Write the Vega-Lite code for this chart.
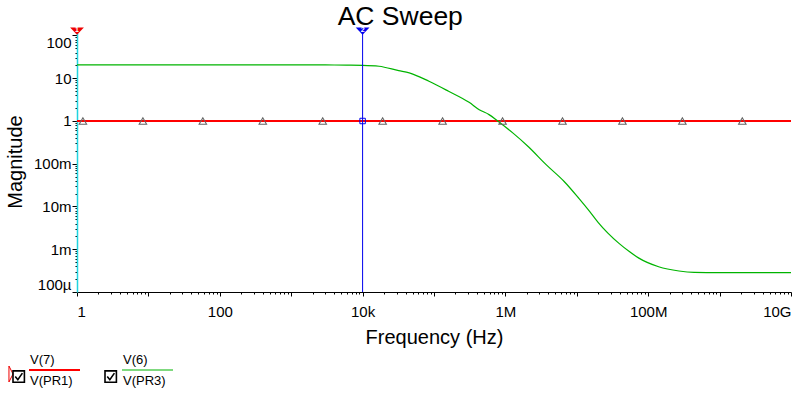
{
  "$schema": "https://vega.github.io/schema/vega-lite/v6.json",
  "width": 714,
  "height": 261,
  "autosize": {"type": "none"},
  "padding": {"left": 77, "top": 31, "right": 4, "bottom": 101},
  "background": "white",
  "config": {"view": {"stroke": null}, "font": "Liberation Sans"},
  "title": {"text": "AC Sweep", "fontSize": 26.5, "font": "Liberation Sans", "fontWeight": "normal", "color": "black", "anchor": "middle", "frame": "bounds", "baseline": "alphabetic", "offset": 5, "dy": 30},
  "datasets": {
    "curve": [
      {"f": 1, "v": 1, "s": "V(7)/V(PR1)"},
      {"f": 10000000000, "v": 1, "s": "V(7)/V(PR1)"},
      {"f": 1, "v": 20.5, "s": "V(6)/V(PR3)"},
      {"f": 100, "v": 20.5, "s": "V(6)/V(PR3)"},
      {"f": 1000, "v": 20.5, "s": "V(6)/V(PR3)"},
      {"f": 3000, "v": 20.45, "s": "V(6)/V(PR3)"},
      {"f": 6000, "v": 20.3, "s": "V(6)/V(PR3)"},
      {"f": 10000, "v": 20.1, "s": "V(6)/V(PR3)"},
      {"f": 17000, "v": 19.1, "s": "V(6)/V(PR3)"},
      {"f": 32000, "v": 15.1, "s": "V(6)/V(PR3)"},
      {"f": 45000, "v": 13.4, "s": "V(6)/V(PR3)"},
      {"f": 85000, "v": 8.5, "s": "V(6)/V(PR3)"},
      {"f": 160000, "v": 4.96, "s": "V(6)/V(PR3)"},
      {"f": 310000, "v": 2.73, "s": "V(6)/V(PR3)"},
      {"f": 430000, "v": 1.84, "s": "V(6)/V(PR3)"},
      {"f": 590000, "v": 1.41, "s": "V(6)/V(PR3)"},
      {"f": 780000, "v": 1.0, "s": "V(6)/V(PR3)"},
      {"f": 1280000, "v": 0.52, "s": "V(6)/V(PR3)"},
      {"f": 2100000, "v": 0.25, "s": "V(6)/V(PR3)"},
      {"f": 3750000, "v": 0.094, "s": "V(6)/V(PR3)"},
      {"f": 6600000, "v": 0.039, "s": "V(6)/V(PR3)"},
      {"f": 10700000, "v": 0.0155, "s": "V(6)/V(PR3)"},
      {"f": 15200000, "v": 0.0076, "s": "V(6)/V(PR3)"},
      {"f": 20000000, "v": 0.0042, "s": "V(6)/V(PR3)"},
      {"f": 39000000, "v": 0.00137, "s": "V(6)/V(PR3)"},
      {"f": 55000000, "v": 0.00087, "s": "V(6)/V(PR3)"},
      {"f": 74000000, "v": 0.00062, "s": "V(6)/V(PR3)"},
      {"f": 140000000, "v": 0.00039, "s": "V(6)/V(PR3)"},
      {"f": 270000000, "v": 0.00031, "s": "V(6)/V(PR3)"},
      {"f": 440000000, "v": 0.000288, "s": "V(6)/V(PR3)"},
      {"f": 1000000000, "v": 0.000284, "s": "V(6)/V(PR3)"},
      {"f": 10000000000, "v": 0.000284, "s": "V(6)/V(PR3)"}
    ],
    "markers": [
      {"f": 1.21, "v": 1, "t": "V(7)"},
      {"f": 8.38, "v": 1, "t": "V(7)"},
      {"f": 57.9, "v": 1, "t": "V(7)"},
      {"f": 400, "v": 1, "t": "V(7)"},
      {"f": 2765, "v": 1, "t": "V(7)"},
      {"f": 19100, "v": 1, "t": "V(7)"},
      {"f": 132000, "v": 1, "t": "V(7)"},
      {"f": 913000, "v": 1, "t": "V(7)"},
      {"f": 6310000, "v": 1, "t": "V(7)"},
      {"f": 43600000, "v": 1, "t": "V(7)"},
      {"f": 301000000, "v": 1, "t": "V(7)"},
      {"f": 2080000000, "v": 1, "t": "V(7)"}
    ],
    "cursors": [
      {"f": 1, "id": "1"},
      {"f": 10000, "id": "2"}
    ]
  },
  "layer": [
    {
      "data": {"name": "curve"},
      "mark": {"type": "line", "interpolate": "monotone"},
      "encoding": {
        "x": {
          "field": "f", "type": "quantitative",
          "scale": {"type": "log", "domain": [1, 10000000000], "nice": false},
          "axis": {
            "values": [1,2,3,4,5,6,7,8,9,10,20,30,40,50,60,70,80,90,100,200,300,400,500,600,700,800,900,1000,2000,3000,4000,5000,6000,7000,8000,9000,10000,20000,30000,40000,50000,60000,70000,80000,90000,100000,200000,300000,400000,500000,600000,700000,800000,900000,1000000,2000000,3000000,4000000,5000000,6000000,7000000,8000000,9000000,10000000,20000000,30000000,40000000,50000000,60000000,70000000,80000000,90000000,100000000,200000000,300000000,400000000,500000000,600000000,700000000,800000000,900000000,1000000000,2000000000,3000000000,4000000000,5000000000,6000000000,7000000000,8000000000,9000000000,10000000000],
            "labelExpr": "datum.value == 1 ? '1' : datum.value == 100 ? '100' : datum.value == 10000 ? '10k' : datum.value == 1000000 ? '1M' : datum.value == 100000000 ? '100M' : datum.value == 10000000000 ? '10G' : ''",
            "labelFlush": true,
            "labelOverlap": false,
            "labelBound": false,
            "labelFontSize": 15,
            "labelFont": "Liberation Sans",
            "labelColor": "black",
            "labelBaseline": "alphabetic",
            "labelPadding": 20,
            "tickSize": {"condition": {"test": "abs(log(datum.value)/LN10 - round(log(datum.value)/LN10)) < 0.001", "value": 4}, "value": 2},
            "tickColor": "black",
            "domainColor": "black",
            "grid": false,
            "title": "Frequency (Hz)",
            "titleFont": "Liberation Sans",
            "titleFontSize": 20,
            "titleFontWeight": "normal",
            "titleColor": "black",
            "titleBaseline": "alphabetic",
            "titleX": 357,
            "titleY": 51
          }
        },
        "y": {
          "field": "v", "type": "quantitative",
          "scale": {"type": "log", "domain": [0.0001, 127.4], "nice": false},
          "axis": {
            "values": [0.0001,0.0002,0.0003,0.0004,0.0005,0.0006,0.0007,0.0008,0.0009,0.001,0.002,0.003,0.004,0.005,0.006,0.007,0.008,0.009,0.01,0.02,0.03,0.04,0.05,0.06,0.07,0.08,0.09,0.1,0.2,0.3,0.4,0.5,0.6,0.7,0.8,0.9,1,2,3,4,5,6,7,8,9,10,20,30,40,50,60,70,80,90,100],
            "labelExpr": "datum.value == 100 ? '100' : datum.value == 10 ? '10' : datum.value == 1 ? '1' : datum.value == 0.1 ? '100m' : datum.value == 0.01 ? '10m' : datum.value == 0.001 ? '1m' : datum.value == 0.0001 ? '100µ' : ''",
            "labelFlush": 10,
            "labelOverlap": false,
            "labelBound": false,
            "labelFontSize": 15,
            "labelFont": "Liberation Sans",
            "labelColor": "black",
            "labelPadding": 1,
            "tickSize": {"condition": {"test": "abs(log(datum.value)/LN10 - round(log(datum.value)/LN10)) < 0.001", "value": 5}, "value": 2},
            "tickColor": "black",
            "domainColor": "#20d4e0",
            "domainWidth": 1.5,
            "grid": false,
            "title": "Magnitude",
            "titleFont": "Liberation Sans",
            "titleFontSize": 20,
            "titleFontWeight": "normal",
            "titleColor": "black",
            "titleBaseline": "alphabetic",
            "titleAlign": "center",
            "titleX": -55.5,
            "titleY": 130.5
          }
        },
        "color": {
          "field": "s", "type": "nominal",
          "scale": {"domain": ["V(7)/V(PR1)", "V(6)/V(PR3)"], "range": ["#ff0000", "#00b400"]},
          "legend": {
            "orient": "none",
            "legendX": -49,
            "legendY": 312.5,
            "direction": "horizontal",
            "title": null,
            "padding": 0,
            "symbolType": "stroke",
            "symbolSize": 2601,
            "symbolStrokeWidth": 1.5,
            "labelOffset": -51,
            "labelFont": "Liberation Sans",
            "labelFontSize": 13,
            "labelColor": "black",
            "labelExpr": "split(datum.label, '/')",
            "columnPadding": 35,
            "encode": {"labels": {"update": {"lineHeight": {"value": 21}, "dy": {"value": -10.5}}}}
          }
        },
        "strokeWidth": {
          "field": "s", "type": "nominal",
          "scale": {"domain": ["V(7)/V(PR1)", "V(6)/V(PR3)"], "range": [2, 1.2]},
          "legend": null
        }
      }
    },
    {
      "data": {"name": "cursors"},
      "transform": [{"filter": "datum.id == '2'"}],
      "mark": {"type": "rule", "color": "#0000ee", "strokeWidth": 1},
      "encoding": {"x": {"field": "f", "type": "quantitative"}}
    },
    {
      "data": {"name": "markers"},
      "mark": {"type": "point", "shape": "triangle-up", "filled": false, "color": "#666666", "strokeWidth": 1.1},
      "encoding": {
        "x": {"field": "f", "type": "quantitative"},
        "y": {"field": "v", "type": "quantitative"},
        "opacity": {
          "field": "t", "type": "nominal",
          "scale": {"domain": ["V(7)", "V(6)"], "range": [1, 1]},
          "legend": {
            "orient": "none",
            "legendX": -65.3,
            "legendY": 338.5,
            "direction": "horizontal",
            "title": null,
            "padding": 0,
            "labelExpr": "''",
            "labelOffset": 0,
            "columnPadding": 74,
            "symbolType": "M-1,-1H1V1H-1Z M-0.6,0L-0.15,0.55L0.65,-0.6",
            "symbolSize": 130,
            "symbolStrokeColor": "black",
            "symbolFillColor": "transparent",
            "symbolStrokeWidth": 1.6,
            "symbolOpacity": 1
          }
        },
        "size": {
          "field": "t", "type": "ordinal",
          "scale": {"domain": ["V(7)"], "range": [55, 55]},
          "legend": {
            "orient": "none",
            "legendX": -71,
            "legendY": 338,
            "title": null,
            "padding": 0,
            "labelExpr": "''",
            "symbolType": "M-0.55,-2.15L0.55,0L-0.55,2.15Z",
            "symbolFillColor": "#ee0000",
            "symbolStrokeColor": "#ee0000",
            "symbolStrokeWidth": 1,
            "symbolOpacity": 1
          }
        }
      }
    },
    {
      "data": {"name": "cursors"},
      "transform": [{"filter": "datum.id == '2'"}],
      "mark": {"type": "point", "shape": "square", "filled": false, "color": "#0000ee", "strokeWidth": 1, "size": 30, "opacity": 1},
      "encoding": {
        "x": {"field": "f", "type": "quantitative"},
        "y": {"datum": 1, "type": "quantitative"}
      }
    },
    {
      "data": {"name": "cursors"},
      "mark": {"type": "point", "shape": "M-1,-0.5L1,-0.5L0,0.55Z", "filled": true, "size": 190, "opacity": 1, "strokeWidth": 0},
      "encoding": {
        "x": {"field": "f", "type": "quantitative"},
        "y": {"datum": 127.4, "type": "quantitative"},
        "fill": {"field": "id", "type": "nominal", "scale": {"domain": ["1", "2"], "range": ["#ee0000", "#0000ee"]}, "legend": null}
      }
    },
    {
      "data": {"name": "cursors"},
      "mark": {"type": "text", "color": "white", "fontSize": 7, "fontWeight": "bold", "dy": -1},
      "encoding": {
        "x": {"field": "f", "type": "quantitative"},
        "y": {"datum": 127.4, "type": "quantitative"},
        "text": {"field": "id"}
      }
    }
  ]
}
